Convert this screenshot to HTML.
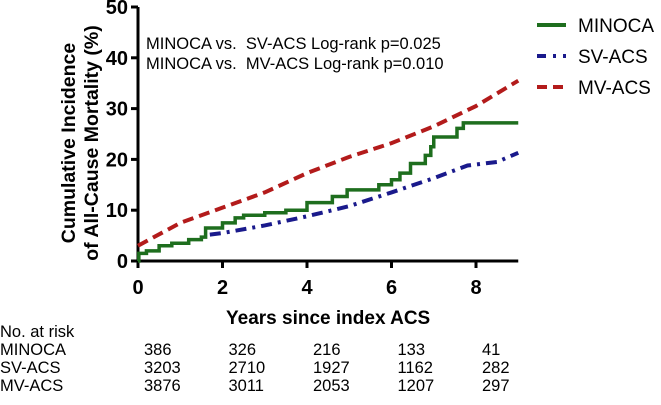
<!DOCTYPE html>
<html><head><meta charset="utf-8"><style>
body{margin:0;background:#fff;width:661px;height:400px;overflow:hidden;font-family:"Liberation Sans",sans-serif}
</style></head><body>
<svg id="chart" width="661" height="400" xmlns="http://www.w3.org/2000/svg" font-family="Liberation Sans, sans-serif"></svg>
<script>
const xTicks=[0,2,4,6,8];
const yTicks=[0,10,20,30,40,50];
const minocaPts=[[0,0],[0.02,1.5],[0.2,2],[0.5,3],[0.8,3.5],[1.2,4.2],[1.5,4.7],[1.6,6.5],[2,7.5],[2.3,8.5],[2.5,9],[3,9.5],[3.5,10],[4,11.5],[4.6,12.7],[4.95,14],[5.7,15],[6.0,16],[6.2,17.3],[6.45,19.2],[6.8,20.8],[6.93,22.5],[7.0,24.4],[7.55,26.1],[7.7,27.2],[9,27.2]];
const svPts=[[1.7,5.2],[2,5.5],[3,7],[4,8.8],[5,10.8],[6,13.5],[7,16.3],[7.8,18.8],[8.5,19.5],[9,21.3]];
const mvPts=[[0,3],[1,7.5],[2,10.5],[3,13.5],[4,17.3],[5,20.5],[6,23.2],[7,26.5],[8,30.5],[9,35.5]];
const riskGroups=["MINOCA","SV-ACS","MV-ACS"];
const riskMinoca=[386,326,216,133,41];
const riskSv=[3203,2710,1927,1162,282];
const riskMv=[3876,3011,2053,1207,297];
const svg=document.getElementById('chart');
const NS='http://www.w3.org/2000/svg';
const X=v=>138+v*42.25, Y=v=>261-v*5.08;
function el(t,a,p){const e=document.createElementNS(NS,t);for(const k in a)e.setAttribute(k,a[k]);(p||svg).appendChild(e);return e;}
function txt(s,a){const e=el('text',a);e.textContent=s;return e;}
let e=el('line',{x1:X(0),y1:Y(0),x2:X(9),y2:Y(0),stroke:'#000','stroke-width':3});

e=el('line',{x1:X(0),y1:Y(0)+1,x2:X(0),y2:Y(50),stroke:'#000','stroke-width':3});

xTicks.forEach(v=>{el('line',{x1:X(v),y1:Y(0),x2:X(v),y2:Y(0)+7,stroke:'#000','stroke-width':3});
 const t=txt(String(v),{x:X(v),y:294,'text-anchor':'middle','font-size':20,'font-weight':'bold'});
 });
yTicks.forEach(v=>{el('line',{x1:X(0)-7,y1:Y(v),x2:X(0),y2:Y(v),stroke:'#000','stroke-width':3});
 const t=txt(String(v),{x:X(0)-10,y:Y(v)+7,'text-anchor':'end','font-size':20,'font-weight':'bold'});
 });
e=txt('Years since index ACS',{x:X(4.5),y:324,'text-anchor':'middle','font-size':19,'font-weight':'bold'});

const yt=el('text',{transform:'translate(75,143) rotate(-90)','text-anchor':'middle','font-size':19.5,'font-weight':'bold'});

const t1=el('tspan',{x:0,y:0},yt);t1.textContent='Cumulative Incidence';
const t2=el('tspan',{x:0,y:23},yt);t2.textContent='of All-Cause Mortality (%)';
e=txt('MINOCA vs.\u00a0 SV-ACS Log-rank p=0.025',{x:146,y:49,'font-size':16.5});

e=txt('MINOCA vs.\u00a0 MV-ACS Log-rank p=0.010',{x:146,y:69,'font-size':16.5});

function step(p){let d='M'+X(p[0][0])+','+Y(p[0][1]);for(let i=1;i<p.length;i++){d+=' H'+X(p[i][0])+' V'+Y(p[i][1]);}return d;}
function line(p){return 'M'+p.map(q=>X(q[0])+','+Y(q[1])).join(' L');}
e=el('path',{d:line(mvPts),fill:'none',stroke:'#b31b1b','stroke-width':4,'stroke-dasharray':'11,6'});

e=el('path',{d:line(svPts),fill:'none',stroke:'#1a1a8c','stroke-width':4,'stroke-dasharray':'11,6,3,6'});

e=el('path',{d:step(minocaPts),fill:'none',stroke:'#1e6e1e','stroke-width':3.5});

const leg=[['MINOCA','#1e6e1e',''],['SV-ACS','#1a1a8c','9,7,3,7'],['MV-ACS','#b31b1b','10,6']];
leg.forEach((l,i)=>{const y=25+i*31;
 const g=el('g',{});
 el('line',{x1:537,y1:y,x2:566,y2:y,stroke:l[1],'stroke-width':4,'stroke-dasharray':l[2]||'none'},g);
 const t=el('text',{x:578,y:y+7,'font-size':19},g);t.textContent=l[0];});
e=txt('No. at risk',{x:0,y:337,'font-size':16.5});

[riskMinoca,riskSv,riskMv].forEach((row,i)=>{const y=355+i*18;
 const l=txt(riskGroups[i],{x:0,y:y,'font-size':16.5});
 
 row.forEach((v,j)=>{const t=txt(String(v),{x:X(xTicks[j])+6,y:y,'font-size':16.5});
  });});
</script>
</body></html>
